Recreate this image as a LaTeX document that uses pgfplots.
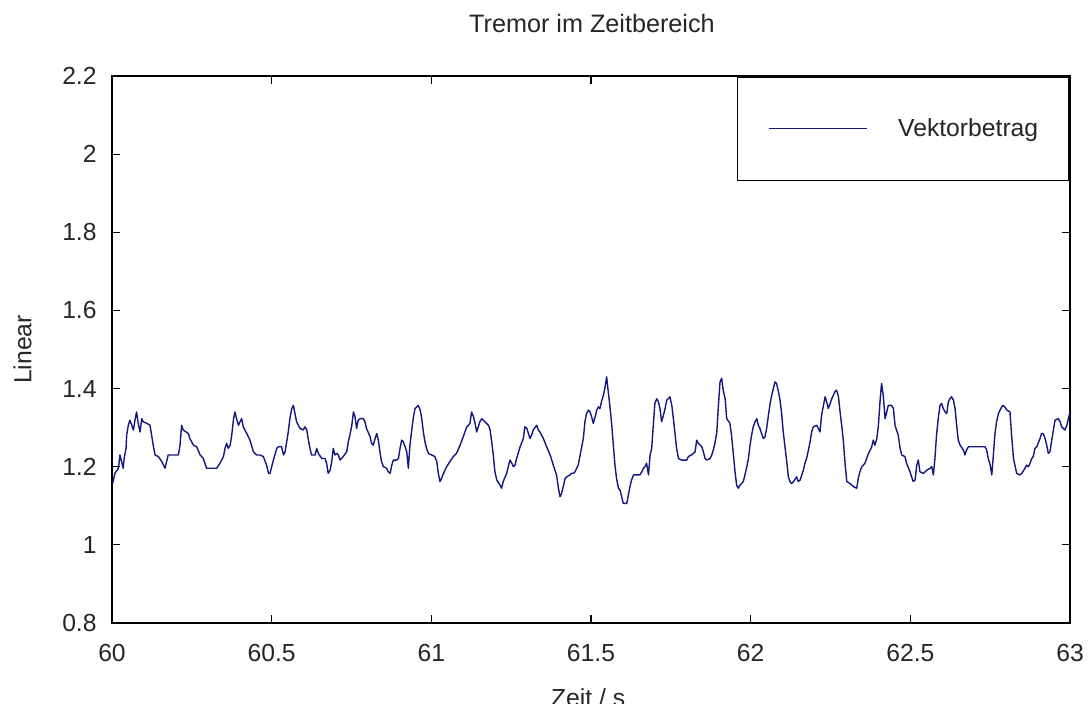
\documentclass[border=0pt]{standalone}
\usepackage{pgfplots}
\pgfplotsset{compat=1.18}
\usepackage{fontspec}
\setmainfont{Liberation Sans}
\definecolor{navy}{RGB}{22,22,128}
\definecolor{txt}{RGB}{38,38,38}
\pgfplotstableread{
x y
60.002 1.157
60.009 1.183
60.020 1.196
60.025 1.230
60.030 1.213
60.035 1.196
60.038 1.221
60.044 1.247
60.046 1.281
60.051 1.306
60.056 1.319
60.062 1.306
60.067 1.294
60.072 1.319
60.077 1.340
60.082 1.311
60.088 1.289
60.093 1.323
60.098 1.315
60.109 1.311
60.119 1.306
60.124 1.281
60.129 1.255
60.135 1.230
60.145 1.226
60.156 1.213
60.166 1.196
60.171 1.213
60.176 1.230
60.192 1.230
60.208 1.230
60.213 1.255
60.218 1.306
60.223 1.294
60.239 1.285
60.244 1.272
60.255 1.255
60.265 1.251
60.276 1.230
60.286 1.221
60.296 1.196
60.312 1.196
60.328 1.196
60.338 1.209
60.349 1.226
60.354 1.247
60.359 1.260
60.364 1.247
60.370 1.255
60.375 1.281
60.380 1.319
60.385 1.340
60.390 1.323
60.396 1.306
60.401 1.315
60.406 1.323
60.411 1.302
60.422 1.285
60.432 1.268
60.443 1.238
60.453 1.230
60.463 1.230
60.474 1.226
60.484 1.204
60.490 1.183
60.495 1.183
60.500 1.200
60.510 1.230
60.516 1.247
60.521 1.251
60.531 1.251
60.537 1.230
60.542 1.238
60.552 1.289
60.557 1.323
60.563 1.349
60.568 1.357
60.573 1.336
60.578 1.315
60.589 1.298
60.599 1.294
60.604 1.302
60.610 1.294
60.615 1.268
60.620 1.247
60.625 1.230
60.636 1.230
60.641 1.247
60.646 1.234
60.657 1.221
60.667 1.221
60.672 1.209
60.677 1.183
60.683 1.191
60.688 1.213
60.693 1.247
60.698 1.230
60.704 1.234
60.709 1.230
60.714 1.217
60.724 1.226
60.735 1.238
60.740 1.264
60.745 1.281
60.751 1.306
60.756 1.340
60.761 1.328
60.766 1.298
60.771 1.319
60.777 1.323
60.787 1.323
60.792 1.315
60.797 1.298
60.808 1.277
60.813 1.260
60.818 1.255
60.824 1.272
60.829 1.285
60.834 1.268
60.839 1.238
60.844 1.213
60.850 1.200
60.860 1.196
60.865 1.187
60.871 1.183
60.876 1.204
60.881 1.217
60.891 1.217
60.897 1.221
60.902 1.247
60.907 1.268
60.912 1.264
60.918 1.251
60.923 1.238
60.928 1.196
60.933 1.255
60.938 1.289
60.944 1.328
60.949 1.349
60.954 1.353
60.959 1.357
60.965 1.345
60.970 1.323
60.975 1.289
60.980 1.264
60.985 1.247
60.991 1.234
61.001 1.230
61.011 1.226
61.017 1.213
61.022 1.183
61.027 1.162
61.032 1.170
61.038 1.183
61.048 1.200
61.058 1.213
61.069 1.226
61.079 1.234
61.090 1.255
61.100 1.277
61.111 1.302
61.116 1.306
61.121 1.311
61.126 1.340
61.132 1.328
61.137 1.311
61.142 1.289
61.147 1.302
61.152 1.315
61.158 1.323
61.168 1.315
61.179 1.306
61.184 1.294
61.189 1.264
61.194 1.230
61.199 1.187
61.205 1.166
61.215 1.153
61.220 1.145
61.225 1.162
61.236 1.183
61.241 1.200
61.246 1.217
61.252 1.209
61.257 1.200
61.262 1.204
61.267 1.221
61.278 1.251
61.288 1.272
61.293 1.302
61.299 1.298
61.304 1.285
61.309 1.272
61.314 1.281
61.319 1.294
61.330 1.306
61.335 1.294
61.340 1.289
61.345 1.281
61.351 1.272
61.361 1.251
61.372 1.230
61.382 1.204
61.392 1.179
61.398 1.145
61.403 1.123
61.408 1.132
61.413 1.149
61.419 1.170
61.424 1.174
61.434 1.179
61.439 1.183
61.445 1.183
61.450 1.187
61.455 1.196
61.460 1.204
61.466 1.230
61.476 1.272
61.481 1.315
61.486 1.336
61.492 1.345
61.497 1.340
61.502 1.328
61.507 1.311
61.513 1.328
61.518 1.345
61.523 1.353
61.528 1.349
61.534 1.370
61.539 1.383
61.544 1.404
61.549 1.430
61.554 1.392
61.560 1.349
61.565 1.306
61.570 1.255
61.575 1.204
61.580 1.170
61.586 1.145
61.591 1.140
61.596 1.123
61.601 1.106
61.612 1.106
61.617 1.128
61.622 1.149
61.627 1.166
61.633 1.179
61.653 1.179
61.659 1.187
61.664 1.196
61.669 1.200
61.674 1.209
61.680 1.179
61.685 1.230
61.690 1.247
61.695 1.306
61.700 1.362
61.706 1.374
61.711 1.366
61.716 1.349
61.721 1.315
61.727 1.332
61.732 1.349
61.737 1.370
61.742 1.374
61.747 1.379
61.753 1.357
61.758 1.323
61.763 1.285
61.768 1.247
61.774 1.221
61.784 1.217
61.800 1.217
61.805 1.226
61.815 1.230
61.826 1.238
61.831 1.268
61.836 1.260
61.847 1.251
61.852 1.238
61.857 1.221
61.862 1.217
61.873 1.221
61.878 1.230
61.883 1.243
61.888 1.260
61.894 1.289
61.899 1.357
61.904 1.417
61.909 1.426
61.914 1.396
61.920 1.374
61.925 1.323
61.935 1.311
61.940 1.281
61.946 1.230
61.951 1.187
61.956 1.153
61.961 1.145
61.967 1.153
61.977 1.162
61.982 1.179
61.987 1.196
61.993 1.221
61.998 1.255
62.003 1.281
62.008 1.302
62.014 1.315
62.019 1.323
62.024 1.306
62.029 1.298
62.034 1.285
62.040 1.272
62.045 1.277
62.050 1.298
62.055 1.328
62.061 1.362
62.066 1.383
62.071 1.400
62.076 1.417
62.081 1.413
62.087 1.392
62.092 1.370
62.097 1.336
62.102 1.289
62.108 1.247
62.113 1.213
62.118 1.174
62.123 1.162
62.128 1.157
62.134 1.162
62.144 1.174
62.149 1.162
62.155 1.166
62.160 1.179
62.165 1.191
62.170 1.209
62.175 1.221
62.181 1.243
62.186 1.264
62.191 1.289
62.196 1.302
62.207 1.306
62.217 1.289
62.222 1.332
62.228 1.357
62.233 1.379
62.238 1.366
62.243 1.349
62.249 1.362
62.254 1.374
62.259 1.383
62.264 1.392
62.269 1.396
62.275 1.379
62.280 1.340
62.285 1.306
62.290 1.268
62.296 1.204
62.301 1.162
62.311 1.157
62.322 1.149
62.332 1.145
62.337 1.170
62.342 1.187
62.348 1.200
62.358 1.209
62.363 1.221
62.369 1.234
62.379 1.251
62.384 1.268
62.389 1.255
62.395 1.272
62.400 1.306
62.405 1.366
62.408 1.396
62.410 1.413
62.415 1.383
62.421 1.323
62.426 1.340
62.431 1.357
62.441 1.357
62.447 1.349
62.452 1.306
62.462 1.281
62.468 1.247
62.473 1.230
62.483 1.226
62.488 1.209
62.499 1.187
62.504 1.174
62.509 1.162
62.515 1.166
62.520 1.204
62.525 1.217
62.530 1.187
62.541 1.183
62.551 1.191
62.562 1.196
62.567 1.200
62.572 1.179
62.577 1.221
62.582 1.281
62.588 1.328
62.593 1.357
62.598 1.362
62.603 1.349
62.609 1.340
62.614 1.336
62.619 1.366
62.624 1.374
62.629 1.379
62.635 1.370
62.640 1.349
62.645 1.306
62.650 1.268
62.656 1.255
62.666 1.243
62.671 1.230
62.676 1.243
62.682 1.251
62.734 1.251
62.739 1.243
62.744 1.221
62.750 1.204
62.755 1.179
62.760 1.230
62.765 1.285
62.770 1.315
62.776 1.336
62.781 1.345
62.786 1.353
62.791 1.357
62.796 1.353
62.802 1.345
62.812 1.340
62.817 1.281
62.823 1.221
62.833 1.183
62.843 1.179
62.849 1.183
62.859 1.196
62.864 1.204
62.870 1.200
62.875 1.209
62.880 1.221
62.885 1.226
62.890 1.247
62.896 1.251
62.906 1.272
62.911 1.285
62.916 1.285
62.922 1.272
62.927 1.255
62.932 1.234
62.937 1.238
62.942 1.264
62.948 1.294
62.953 1.319
62.963 1.323
62.969 1.315
62.974 1.302
62.979 1.298
62.984 1.294
62.990 1.306
62.995 1.323
63.000 1.340
}\tremor
\begin{document}
\begin{tikzpicture}
\begin{axis}[
  scale only axis,
  width=479pt, height=273.5pt,
  xmin=60, xmax=63, ymin=0.8, ymax=2.2,
  xtick={60,60.5,...,63},
  ytick={0.8,1,1.2,1.4,1.6,1.8,2,2.2},
  yticklabels={0.8,1,1.2,1.4,1.6,1.8,2,2.2},
  xticklabels={60,60.5,61,61.5,62,62.5,63},
  tick align=inside,
  major tick length=4pt,
  every tick/.style={black, line width=0.6pt},
  axis line style={black, line width=0.8pt},
  font=\fontsize{12.35}{14}\selectfont,
  /pgf/number format/assume math mode=true,
  tick label style={text=txt},
  xticklabel style={inner sep=0pt, yshift=-10.5pt},
  yticklabel style={inner sep=0pt, xshift=-7.5pt},
  title={Tremor im Zeitbereich},
  every axis title shift=0pt,
  title style={at={(axis description cs:0.501,1.0804)}, anchor=base, inner sep=0pt, text=txt, font=\fontsize{12.6}{14}\selectfont},
  xlabel={Zeit / s},
  xlabel style={at={(axis description cs:0.497,-0.1188)}, anchor=north, inner sep=0pt, text=txt},
  ylabel={Linear},
  ylabel style={at={(axis description cs:-0.0934,0.5)}, anchor=center, inner sep=0pt, text=txt},
  legend style={at={(rel axis cs:1,1)}, anchor=north east, draw=black, line width=0.8pt,
    inner xsep=15.5pt, inner ysep=20.7pt,
    nodes={inner sep=0pt, text=txt}},
  legend image code/.code={\draw[#1, line width=0.6pt] (0pt,0pt) -- (49pt,0pt); \path[draw=none,fill=none] (0pt,0pt) (64.5pt,0pt);},
]
\coordinate (ll) at (rel axis cs:0,0);
\addplot[navy, line width=0.7pt, line join=round] table[x=x,y=y] {\tremor};
\addlegendentry{Vektorbetrag}
\end{axis}
\pgfresetboundingbox
\path[use as bounding box] (ll) ++(-56pt,-40.5pt) rectangle ++(545.5pt,352pt);
\end{tikzpicture}
\end{document}
